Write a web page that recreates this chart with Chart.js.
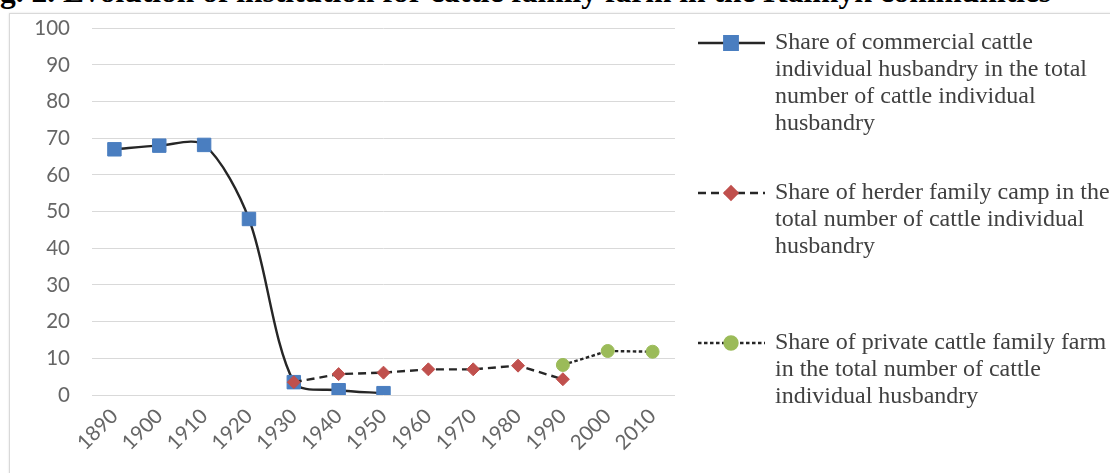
<!DOCTYPE html>
<html>
<head>
<meta charset="utf-8">
<script src="https://cdn.jsdelivr.net/npm/chart.js@4/dist/chart.umd.min.js"></script>
<style>
  html, body { margin: 0; padding: 0; background: #fff; overflow: hidden; }
  body { width: 1110px; height: 473px; position: relative; }
  #title {
    position: absolute; top: -24px; left: -26px; white-space: nowrap;
    font: bold 31.5px "Liberation Serif", "Times New Roman", serif; color: #000; line-height: 31px;
  }
  #frame {
    position: absolute; left: 9px; top: 13px; width: 1110px; height: 470px;
    border: 1px solid #d9d9d9; box-shadow: 0 0 2px rgba(0,0,0,0.12); background: #fff;
  }
  #wrap { position: absolute; left: 0; top: 0; width: 1100px; height: 459px; }
</style>
</head>
<body>
<div id="title">Fig. 2. Evolution of institution for cattle family farm in the Kalmyk communities</div>
<div id="frame"><div id="wrap"><canvas id="chart"></canvas></div></div>
<script>
// Decades on the horizontal axis
const years = ['1890','1900','1910','1920','1930','1940','1950','1960','1970','1980','1990','2000','2010'];

// Shares, % of the total number of cattle individual husbandry
const commercialShare = [67, 68, 68.2, 48, 3.5, 1.3, 0.5, null, null, null, null, null, null];
const herderCampShare = [null, null, null, null, 3.5, 5.7, 6.1, 7, 7, 8, 4.3, null, null];
const privateFarmShare = [null, null, null, null, null, null, null, null, null, null, 8.2, 12, 11.8];

// Legend wording, one entry per series, already broken into lines
const commercialLabel = ['Share of commercial cattle', 'individual husbandry in the total', 'number of cattle individual', 'husbandry'];
const herderLabel = ['Share of herder family camp in the', 'total number of cattle individual', 'husbandry'];
const privateLabel = ['Share of private cattle family farm', 'in the total number of cattle', 'individual husbandry'];

// Trim the leading "Fi" so the caption starts at the page edge
(function () {
  const t = document.getElementById('title');
  const c = document.createElement('canvas').getContext('2d');
  c.font = 'bold 31.5px "Liberation Serif"';
  t.style.left = (-c.measureText('Fi').width) + 'px';
})();

const BLUE = '#4A7EC0', RED = '#C0504D', GREEN = '#9BBB59', INK = '#262626';
const TICK_FONT = { family: 'Lato', size: 20.5 };

// Wrapped legend at the right-hand side, drawn from each dataset's own styling
const sideLegend = {
  id: 'sideLegend',
  afterDraw(chart) {
    const ctx = chart.ctx;
    const x0 = 688, x1 = 755, cx = 721, tx = 765, lineH = 27;
    const tops = [29, 179, 329];
    chart.data.datasets.forEach((ds, i) => {
      const y = tops[i];
      ctx.save();
      ctx.strokeStyle = ds.borderColor;
      ctx.lineWidth = ds.borderWidth;
      ctx.setLineDash(ds.borderDash || []);
      ctx.beginPath();
      ctx.moveTo(x0, y);
      ctx.lineTo(x1, y);
      ctx.stroke();
      ctx.setLineDash([]);
      ctx.fillStyle = ds.pointBackgroundColor;
      ctx.strokeStyle = ds.pointBorderColor;
      Chart.helpers.drawPoint(ctx, { pointStyle: ds.pointStyle, radius: ds.pointRadius, rotation: 0, borderWidth: 1 }, cx, y);
      ctx.fillStyle = '#404040';
      ctx.font = '24px "Liberation Serif", "Times New Roman", serif';
      ctx.textBaseline = 'middle';
      ctx.textAlign = 'left';
      ds.legendLines.forEach((s, k) => ctx.fillText(s, tx, y + k * lineH));
      ctx.restore();
    });
  }
};

new Chart(document.getElementById('chart'), {
  type: 'line',
  data: {
    labels: years,
    datasets: [
      {
        label: commercialLabel.join(' '),
        legendLines: commercialLabel,
        data: commercialShare,
        borderColor: INK, borderWidth: 2.4, tension: 0.3,
        pointStyle: 'rect', pointRadius: 9.5,
        pointBackgroundColor: BLUE, pointBorderColor: BLUE, pointBorderWidth: 1,
        order: 3
      },
      {
        label: herderLabel.join(' '),
        legendLines: herderLabel,
        data: herderCampShare,
        borderColor: INK, borderWidth: 2.4, borderDash: [8, 5], tension: 0,
        pointStyle: 'rectRot', pointRadius: 6.5,
        pointBackgroundColor: RED, pointBorderColor: RED, pointBorderWidth: 1,
        order: 2
      },
      {
        label: privateLabel.join(' '),
        legendLines: privateLabel,
        data: privateFarmShare,
        borderColor: INK, borderWidth: 2.4, borderDash: [3.5, 2.5], tension: 0,
        pointStyle: 'circle', pointRadius: 6.5,
        pointBackgroundColor: GREEN, pointBorderColor: GREEN, pointBorderWidth: 1,
        order: 1
      }
    ]
  },
  options: {
    responsive: true,
    maintainAspectRatio: false,
    animation: false,
    layout: { padding: { left: 0, top: 0, right: 435, bottom: 0 } },
    plugins: { legend: { display: false }, title: { display: false }, tooltip: { enabled: false } },
    scales: {
      x: {
        offset: true,
        grid: { display: false, drawTicks: false },
        border: { display: false },
        ticks: {
          color: '#666666', font: TICK_FONT,
          minRotation: 45, maxRotation: 45, padding: 9, autoSkip: false
        },
        afterFit(scale) { scale.height = 78; }
      },
      y: {
        min: 0, max: 100,
        grid: { color: '#d9d9d9', lineWidth: 1, drawTicks: true, tickLength: 20, tickColor: 'rgba(0,0,0,0)' },
        border: { display: false },
        ticks: { stepSize: 10, color: '#666666', font: TICK_FONT, padding: 2 },
        afterFit(scale) { scale.width = 82; }
      }
    }
  },
  plugins: [sideLegend]
});
</script>
</body>
</html>
